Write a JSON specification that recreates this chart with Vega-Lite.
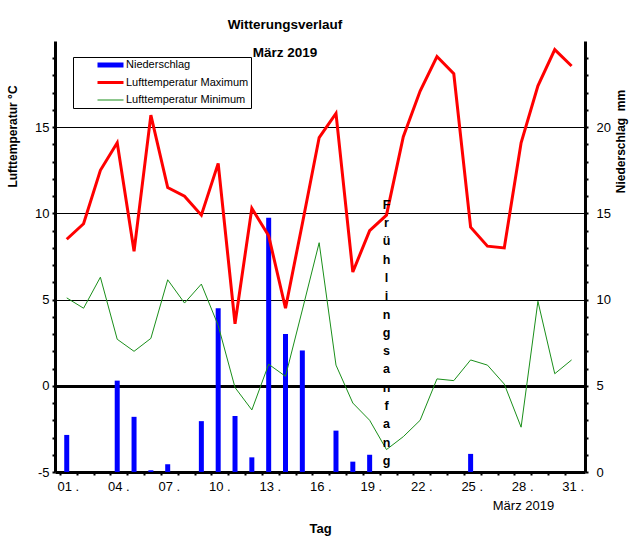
{
  "$schema": "https://vega.github.io/schema/vega-lite/v6.json",
  "width": 530,
  "height": 431,
  "autosize": "none",
  "padding": {"left": 55, "top": 41, "right": 48, "bottom": 68},
  "background": "white",
  "config": {"view": {"stroke": null}},
  "title": {
    "text": ["Witterungsverlauf", "März 2019"],
    "font": "Liberation Sans",
    "fontSize": 13.5,
    "fontWeight": "bold",
    "lineHeight": 28,
    "color": "black",
    "anchor": "middle",
    "frame": "group",
    "dx": -35,
    "offset": -18
  },
  "data": {
    "values": [
      {"day": 1, "tmax": 8.5, "tmin": 5.1, "precip": 2.15},
      {"day": 2, "tmax": 9.4, "tmin": 4.5, "precip": 0},
      {"day": 3, "tmax": 12.5, "tmin": 6.3, "precip": 0},
      {"day": 4, "tmax": 14.1, "tmin": 2.7, "precip": 5.3},
      {"day": 5, "tmax": 7.8, "tmin": 2.0, "precip": 3.2},
      {"day": 6, "tmax": 15.7, "tmin": 2.75, "precip": 0.1},
      {"day": 7, "tmax": 11.5, "tmin": 6.15, "precip": 0.45},
      {"day": 8, "tmax": 11.0, "tmin": 4.8, "precip": 0},
      {"day": 9, "tmax": 9.9, "tmin": 5.9, "precip": 2.95},
      {"day": 10, "tmax": 12.9, "tmin": 3.5, "precip": 9.5},
      {"day": 11, "tmax": 3.6, "tmin": -0.1, "precip": 3.25},
      {"day": 12, "tmax": 10.3, "tmin": -1.4, "precip": 0.85},
      {"day": 13, "tmax": 8.7, "tmin": 1.25, "precip": 14.75},
      {"day": 14, "tmax": 4.5, "tmin": 0.55, "precip": 8.0},
      {"day": 15, "tmax": 9.4, "tmin": 4.4, "precip": 7.05},
      {"day": 16, "tmax": 14.4, "tmin": 8.3, "precip": 0},
      {"day": 17, "tmax": 15.8, "tmin": 1.2, "precip": 2.4},
      {"day": 18, "tmax": 6.6, "tmin": -1.0, "precip": 0.6},
      {"day": 19, "tmax": 9.0, "tmin": -2.0, "precip": 1.0},
      {"day": 20, "tmax": 9.9, "tmin": -3.7, "precip": 0},
      {"day": 21, "tmax": 14.45, "tmin": -2.95, "precip": 0},
      {"day": 22, "tmax": 17.1, "tmin": -2.0, "precip": 0},
      {"day": 23, "tmax": 19.1, "tmin": 0.4, "precip": 0},
      {"day": 24, "tmax": 18.1, "tmin": 0.3, "precip": 0},
      {"day": 25, "tmax": 9.2, "tmin": 1.5, "precip": 1.05},
      {"day": 26, "tmax": 8.1, "tmin": 1.2, "precip": 0},
      {"day": 27, "tmax": 8.0, "tmin": 0.1, "precip": 0},
      {"day": 28, "tmax": 14.1, "tmin": -2.4, "precip": 0},
      {"day": 29, "tmax": 17.4, "tmin": 4.9, "precip": 0},
      {"day": 30, "tmax": 19.5, "tmin": 0.7, "precip": 0},
      {"day": 31, "tmax": 18.55, "tmin": 1.5, "precip": 0}
    ]
  },
  "resolve": {"scale": {"y": "independent"}},
  "layer": [
    {
      "mark": {"type": "bar", "width": 5, "color": "#0000ff"},
      "encoding": {
        "x": {
          "field": "day", "type": "quantitative",
          "scale": {"domain": [0.6, 31.5], "nice": false, "zero": false},
          "axis": {
            "title": "Tag",
            "titleFont": "Liberation Sans",
            "titleFontSize": 13, "titleFontWeight": "bold", "titleColor": "black",
            "titleX": 265, "titleY": 56, "titleBaseline": "middle", "titleAlign": "center",
            "values": [0.6,1.6,2.6,3.6,4.6,5.6,6.6,7.6,8.6,9.6,10.6,11.6,12.6,13.6,14.6,15.6,16.6,17.6,18.6,19.6,20.6,21.6,22.6,23.6,24.6,25.6,26.6,27.6,28.6,29.6,30.6],
            "tickCount": 200,
            "labelExpr": "(round(datum.value - 0.6) % 3 == 0) ? ((round(datum.value + 0.4) < 10 ? '0' : '') + round(datum.value + 0.4) + ' .') : ''",
            "labelAlign": "left", "labelOffset": -3, "labelPadding": 5, "labelBaseline": "top",
            "labelFont": "Liberation Sans",
            "labelFontSize": 13, "labelColor": "black", "labelFlush": false, "labelOverlap": false,
            "tickSize": 3, "tickWidth": 2, "tickColor": "black",
            "domainColor": "black", "domainWidth": 3, "grid": false
          }
        },
        "y": {
          "field": "precip", "type": "quantitative",
          "scale": {"domain": [0, 25], "nice": false, "zero": false},
          "axis": {
            "orient": "right",
            "title": "Niederschlag\u00a0 mm",
            "titleFont": "Liberation Sans",
            "titleFontSize": 12, "titleFontWeight": "bold", "titleColor": "black",
            "titleAngle": 270, "titleX": 35, "titleY": 100, "titleAlign": "center", "titleBaseline": "middle",
            "values": [0,1,2,3,4,5,6,7,8,9,10,11,12,13,14,15,16,17,18,19,20,21,22,23,24],
            "tickCount": 200,
            "labelExpr": "datum.value % 5 == 0 ? datum.value : ''",
            "labelFont": "Liberation Sans",
            "labelFontSize": 13, "labelColor": "black", "labelPadding": 8,
            "labelFlush": false, "labelOverlap": false,
            "tickSize": 3, "tickWidth": 2, "tickColor": "black",
            "domainColor": "black", "domainWidth": 3, "grid": false
          }
        },
        "color": {
          "datum": "Niederschlag", "type": "nominal",
          "scale": {
            "domain": ["Niederschlag", "Lufttemperatur Maximum", "Lufttemperatur Minimum"],
            "range": ["#0000ff", "#ff0000", "#1a8f1a"]
          },
          "legend": {
            "title": null,
            "orient": "none", "legendX": 18, "legendY": 16,
            "direction": "vertical",
            "strokeColor": "black", "fillColor": "white", "padding": 2,
            "symbolType": "stroke", "symbolSize": 676,
            "symbolOffset": 30, "labelOffset": 10,
            "clipHeight": 12, "rowPadding": 5.5,
            "labelFont": "Liberation Sans", "labelFontSize": 11, "labelColor": "black",
            "labelLimit": 300,
            "encode": {
              "symbols": {
                "update": {
                  "strokeWidth": {"signal": "datum.value === 'Lufttemperatur Minimum' ? 1 : datum.value === 'Niederschlag' ? 5 : 3"},
                  "stroke": {"signal": "scale('color', datum.value)"},
                  "fill": {"value": "transparent"},
                  "opacity": {"value": 1}
                }
              }
            }
          }
        }
      }
    },
    {
      "layer": [
        {
          "mark": {"type": "line", "strokeWidth": 3, "color": "#ff0000"},
          "encoding": {
            "x": {"field": "day", "type": "quantitative", "scale": {"domain": [0.6, 31.5], "nice": false, "zero": false}},
            "y": {
              "field": "tmax", "type": "quantitative",
              "scale": {"domain": [-5, 20], "nice": false, "zero": false},
              "axis": {
                "orient": "left",
                "title": "Lufttemperatur °C",
                "titleFont": "Liberation Sans",
                "titleFontSize": 12, "titleFontWeight": "bold", "titleColor": "black",
                "titleAngle": 270, "titleX": -43, "titleY": 95, "titleAlign": "center", "titleBaseline": "middle",
                "values": [-5,-4,-3,-2,-1,0,1,2,3,4,5,6,7,8,9,10,11,12,13,14,15,16,17,18,19],
                "tickCount": 200,
                "labelExpr": "datum.value % 5 == 0 ? datum.value : ''",
                "labelFont": "Liberation Sans",
                "labelFontSize": 13, "labelColor": "black", "labelPadding": 3,
                "labelFlush": false, "labelOverlap": false,
                "tickSize": 3, "tickWidth": 2, "tickColor": "black",
                "domainColor": "black", "domainWidth": 3,
                "grid": true,
                "gridColor": {"condition": {"test": "datum.value % 5 == 0 && datum.value > -5", "value": "black"}, "value": "transparent"},
                "gridWidth": {"condition": {"test": "datum.value == 0", "value": 3}, "value": 1},
                "gridOpacity": 1
              }
            },
            "color": {"datum": "Lufttemperatur Maximum", "type": "nominal"}
          }
        },
        {
          "mark": {"type": "line", "strokeWidth": 1, "color": "#1a8f1a"},
          "encoding": {
            "x": {"field": "day", "type": "quantitative", "scale": {"domain": [0.6, 31.5], "nice": false, "zero": false}},
            "y": {"field": "tmin", "type": "quantitative", "scale": {"domain": [-5, 20], "nice": false, "zero": false}},
            "color": {"datum": "Lufttemperatur Minimum", "type": "nominal"}
          }
        },
        {
          "data": {"values": [{"day": 20, "temp": 10.5, "label": "F\nr\nü\nh\nl\ni\nn\ng\ns\na\nn\nf\na\nn\ng"}]},
          "mark": {"type": "text", "lineBreak": "\n", "lineHeight": 18.3, "font": "Liberation Sans", "fontSize": 12.5, "fontWeight": "bold", "color": "black", "align": "center", "baseline": "middle"},
          "encoding": {
            "x": {"field": "day", "type": "quantitative", "scale": {"domain": [0.6, 31.5], "nice": false, "zero": false}},
            "y": {"field": "temp", "type": "quantitative", "scale": {"domain": [-5, 20], "nice": false, "zero": false}},
            "text": {"field": "label", "type": "nominal"}
          }
        },
        {
          "data": {"values": [{"day": 28.14, "temp": -7.0, "label": "März 2019"}]},
          "mark": {"type": "text", "font": "Liberation Sans", "fontSize": 13, "color": "black", "align": "center", "baseline": "middle", "clip": false},
          "encoding": {
            "x": {"field": "day", "type": "quantitative", "scale": {"domain": [0.6, 31.5], "nice": false, "zero": false}},
            "y": {"field": "temp", "type": "quantitative", "scale": {"domain": [-5, 20], "nice": false, "zero": false}},
            "text": {"field": "label", "type": "nominal"}
          }
        }
      ]
    }
  ]
}
